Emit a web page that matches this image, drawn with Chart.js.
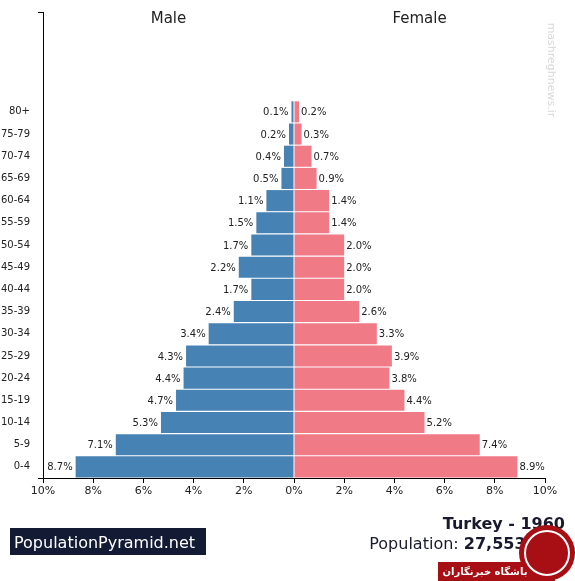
<!DOCTYPE html>
<html><head><meta charset="utf-8">
<script src="https://cdn.jsdelivr.net/npm/chart.js@4/dist/chart.umd.min.js"></script>
<style>html,body{margin:0;padding:0;background:#fff}#wrap{width:575px;height:581px;position:relative}</style>
</head><body><div id="wrap"><canvas id="c" width="575" height="581"></canvas></div>
<script>
const ageGroups = ['0-4','5-9','10-14','15-19','20-24','25-29','30-34','35-39','40-44','45-49','50-54','55-59','60-64','65-69','70-74','75-79','80+','','','',''];
const maleValues = [8.7,7.1,5.3,4.7,4.4,4.3,3.4,2.4,1.7,2.2,1.7,1.5,1.1,0.5,0.4,0.2,0.1];
const femaleValues = [8.9,7.4,5.2,4.4,3.8,3.9,3.3,2.6,2.0,2.0,2.0,1.4,1.4,0.9,0.7,0.3,0.2];
const xTicks = [-10,-8,-6,-4,-2,0,2,4,6,8,10];
const titleText = 'Turkey - 1960';
const popLabel = 'Population: ';
const popValue = '27,553,280';

const FONT = '"DejaVu Sans", sans-serif';
const labels = ageGroups.slice().reverse();
const maleData = labels.map(l => { const i = ageGroups.indexOf(l); return (l && i < maleValues.length) ? -maleValues[i] : null; });
const femaleData = labels.map(l => { const i = ageGroups.indexOf(l); return (l && i < femaleValues.length) ? femaleValues[i] : null; });

const decor = {
  id: 'decor',
  afterDatasetsDraw(chart) {
    const ctx = chart.ctx, x = chart.scales.x, y = chart.scales.y;
    ctx.save();
    ctx.font = '10px ' + FONT;
    ctx.fillStyle = '#222';
    ctx.textBaseline = 'middle';
    chart.data.datasets.forEach((ds, di) => {
      const meta = chart.getDatasetMeta(di);
      meta.data.forEach((bar, i) => {
        const v = ds.data[i];
        if (v === null) return;
        const txt = Math.abs(v).toFixed(1) + '%';
        if (v < 0) { ctx.textAlign = 'right'; ctx.fillText(txt, bar.x - 3, bar.y + 1); }
        else { ctx.textAlign = 'left'; ctx.fillText(txt, bar.x + 2, bar.y + 1); }
      });
    });
    // Male / Female titles
    const mid = x.getPixelForValue(0);
    ctx.font = '15px ' + FONT;
    ctx.textAlign = 'center';
    ctx.fillText('Male', (chart.chartArea.left + mid) / 2 + 0, 19);
    ctx.fillText('Female', (chart.chartArea.right + mid) / 2 + 0, 19);
    // top tick of y axis
    ctx.strokeStyle = '#000'; ctx.lineWidth = 1;
    ctx.beginPath(); ctx.moveTo(38, chart.chartArea.top + 0.5); ctx.lineTo(chart.chartArea.left, chart.chartArea.top + 0.5); ctx.stroke();
    ctx.beginPath(); ctx.moveTo(38, chart.chartArea.bottom + 0.5); ctx.lineTo(chart.chartArea.left, chart.chartArea.bottom + 0.5); ctx.stroke();
    // watermark text
    ctx.save();
    ctx.translate(551, 70); ctx.rotate(Math.PI / 2);
    ctx.font = '11px ' + FONT; ctx.fillStyle = '#d8d8d8'; ctx.textAlign = 'center';
    ctx.fillText('mashreghnews.ir', 0, 0);
    ctx.restore();
    // footer
    ctx.fillStyle = '#131a33';
    ctx.fillRect(10, 528, 196, 27);
    ctx.fillStyle = '#ffffff';
    ctx.font = '16px ' + FONT;
    ctx.textAlign = 'left'; ctx.textBaseline = 'alphabetic';
    ctx.fillText('PopulationPyramid.net', 14, 548);
    ctx.fillStyle = '#1a1a2e';
    ctx.font = 'bold 16px ' + FONT;
    ctx.textAlign = 'right';
    ctx.fillText(titleText, 565, 529);
    const wv = ctx.measureText(popValue).width;
    ctx.fillText(popValue, 565, 549);
    ctx.font = '16px ' + FONT;
    ctx.fillText(popLabel, 565 - wv, 549);
    // logo overlay
    ctx.fillStyle = '#a80f14';
    ctx.fillRect(438, 562, 117, 19);
    ctx.beginPath(); ctx.arc(547, 553, 28, 0, Math.PI * 2); ctx.fill();
    ctx.strokeStyle = '#fff'; ctx.lineWidth = 2;
    ctx.beginPath(); ctx.arc(547, 553, 22, 0, Math.PI * 2); ctx.stroke();
    ctx.fillStyle = '#fff';
    ctx.font = 'bold 10px "DejaVu Sans", sans-serif';
    ctx.textAlign = 'center';
    ctx.fillText('باشگاه خبرنگاران', 485, 575);
    ctx.restore();
  }
};

new Chart(document.getElementById('c'), {
  type: 'bar',
  data: {
    labels: labels,
    datasets: [
      { label: 'Male', data: maleData, backgroundColor: '#4682b4', barPercentage: 0.95, categoryPercentage: 1 },
      { label: 'Female', data: femaleData, backgroundColor: '#f07b87', barPercentage: 0.95, categoryPercentage: 1 }
    ]
  },
  options: {
    indexAxis: 'y',
    responsive: false,
    animation: false,
    layout: { padding: { top: 12, right: 30, left: 0, bottom: 0 } },
    plugins: { legend: { display: false }, tooltip: { enabled: false } },
    scales: {
      x: {
        type: 'linear', min: -10, max: 10, stacked: true,
        afterBuildTicks: s => { s.ticks = xTicks.map(v => ({ value: v })); },
        afterFit: s => { s.height = 103; },
        ticks: { callback: v => Math.abs(v) + '%', color: '#222', font: { family: FONT, size: 11 }, padding: 2, maxRotation: 0, autoSkip: false },
        grid: { drawOnChartArea: false, drawTicks: true, tickLength: 5, color: '#000' },
        border: { display: true, color: '#000', width: 1 }
      },
      y: {
        stacked: true,
        afterFit: s => { s.width = 43; },
        ticks: { color: '#222', font: { family: FONT, size: 10 }, padding: 5, autoSkip: false },
        grid: { display: false },
        border: { display: true, color: '#000', width: 1 }
      }
    }
  },
  plugins: [decor]
});
</script></body></html>
